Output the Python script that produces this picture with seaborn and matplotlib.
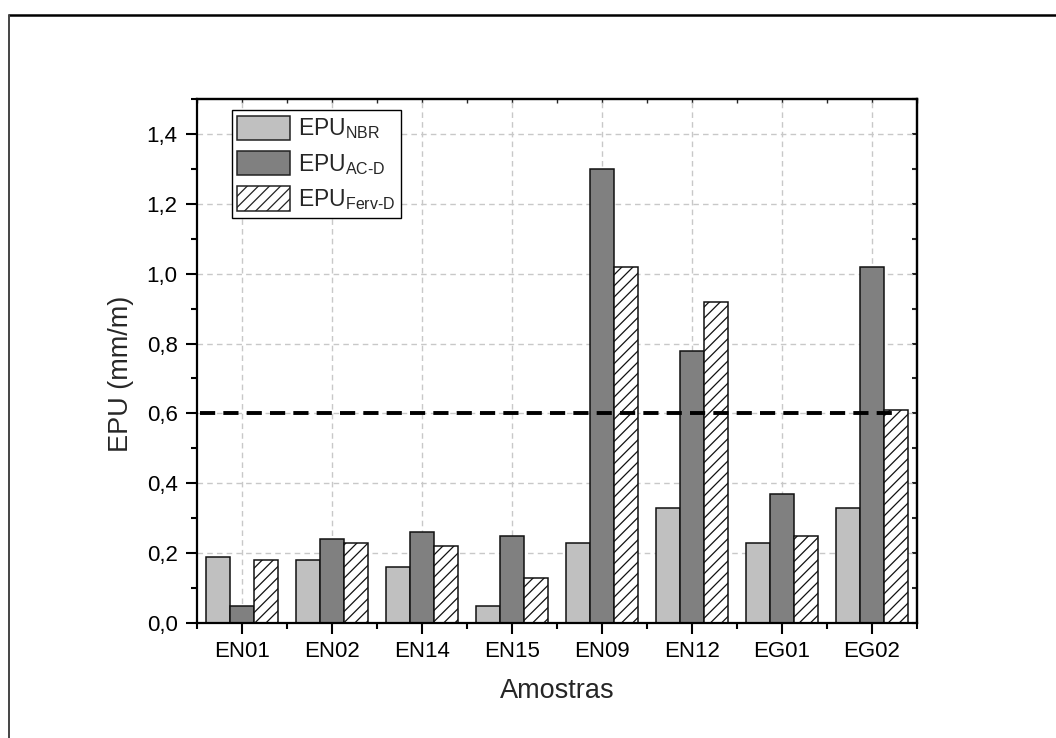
import matplotlib
matplotlib.use("Agg")
import matplotlib.pyplot as plt
import matplotlib.ticker as mticker
from matplotlib.lines import Line2D
from matplotlib.patches import Patch
import seaborn as sns
import pandas as pd

# ---- data ----
samples = ["EN01", "EN02", "EN14", "EN15", "EN09", "EN12", "EG01", "EG02"]
epu_nbr = [0.19, 0.18, 0.16, 0.05, 0.23, 0.33, 0.23, 0.33]
epu_acd = [0.05, 0.24, 0.26, 0.25, 1.30, 0.78, 0.37, 1.02]
epu_ferv = [0.18, 0.23, 0.22, 0.13, 1.02, 0.92, 0.25, 0.61]
series_keys = ["NBR", "AC-D", "Ferv-D"]
legend_labels = [r"EPU$_{\mathregular{NBR}}$", r"EPU$_{\mathregular{AC\text{-}D}}$",
                 r"EPU$_{\mathregular{Ferv\text{-}D}}$"]
threshold = 0.6

df = pd.DataFrame({
    "Amostra": samples * 3,
    "EPU": epu_nbr + epu_acd + epu_ferv,
    "Serie": [series_keys[0]] * 8 + [series_keys[1]] * 8 + [series_keys[2]] * 8,
})

sns.set_style("white")
plt.rcParams["font.family"] = ["Liberation Sans", "DejaVu Sans"]
plt.rcParams["mathtext.fontset"] = "custom"
plt.rcParams["mathtext.rm"] = "Liberation Sans"
plt.rcParams["mathtext.it"] = "Liberation Sans:italic"
plt.rcParams["mathtext.bf"] = "Liberation Sans:bold"
plt.rcParams["hatch.linewidth"] = 0.9

colors = ["#c0c0c0", "#808080", "#ffffff"]

fig = plt.figure(figsize=(10.56, 7.38), dpi=100)
ax = fig.add_axes([197 / 1056, 1 - 623 / 738, 720 / 1056, 524 / 738])

sns.barplot(data=df, x="Amostra", y="EPU", hue="Serie", palette=colors,
            order=samples, hue_order=series_keys, width=0.8, gap=0,
            edgecolor="#111111", linewidth=1.1, saturation=1, ax=ax,
            legend=False, zorder=2)

for p in ax.containers[2]:
    p.set_hatch("///")
    p.set_facecolor("white")

ax.set_xlim(-0.5, 7.5)
ax.set_ylim(0, 1.5)

# threshold line
ax.axhline(threshold, xmin=0.004, xmax=0.974, color="black", lw=2.8,
           linestyle=(0, (3.9, 2.1)), zorder=5)

# grid
ax.set_axisbelow(True)
ax.yaxis.set_major_locator(mticker.MultipleLocator(0.2))
ax.yaxis.set_minor_locator(mticker.MultipleLocator(0.1))
ax.xaxis.set_minor_locator(mticker.FixedLocator([i + 0.5 for i in range(-1, 8)]))
ax.grid(True, which="major", color="#c8c8c8", linestyle=(0, (4, 3)), lw=1.0, zorder=0)
ax.yaxis.set_major_formatter(mticker.FuncFormatter(lambda v, _: f"{v:.1f}".replace(".", ",")))

for s in ax.spines.values():
    s.set_visible(True)
    s.set_linewidth(1.6)
    s.set_color("black")

ax.tick_params(axis="both", which="major", direction="out", length=8, width=1.5,
               labelsize=16, color="black", labelcolor="black")
ax.tick_params(axis="both", which="minor", direction="out", length=4.5, width=1.5,
               color="black")
ax.tick_params(axis="y", which="major", pad=6)
ax.tick_params(axis="x", which="major", pad=5)
ax.tick_params(bottom=True, left=True, top=False, right=False, which="both")

# right and top ticks pointing inward
sec_y = ax.secondary_yaxis("right")
sec_y.yaxis.set_major_locator(mticker.MultipleLocator(0.1))
sec_y.tick_params(direction="in", length=3.5, width=1.5, labelright=False)
sec_y.spines["right"].set_linewidth(1.6)
sec_x = ax.secondary_xaxis("top")
sec_x.xaxis.set_major_locator(mticker.MultipleLocator(0.5))
sec_x.tick_params(direction="in", length=3, width=1.0, labeltop=False)
sec_x.spines["top"].set_linewidth(1.6)

ax.set_xlabel("Amostras", fontsize=19.5)
ax.set_ylabel("EPU (mm/m)", fontsize=19.5)
ax.xaxis.set_label_coords(0.5, -0.105)
ax.yaxis.set_label_coords(-0.088, 0.475)

handles = [Patch(facecolor=colors[0], edgecolor="#222222", lw=1.1),
           Patch(facecolor=colors[1], edgecolor="#222222", lw=1.1),
           Patch(facecolor="white", edgecolor="#222222", lw=1.1, hatch="///")]
leg = ax.legend(handles, legend_labels, loc="upper left", bbox_to_anchor=(0.048, 0.979),
                borderaxespad=0, fontsize=16.5, frameon=True, fancybox=False,
                edgecolor="black", framealpha=1, handlelength=2.3, handleheight=1.25,
                handletextpad=0.35, labelspacing=0.42, borderpad=0.25)
leg.get_frame().set_linewidth(1.0)

# outer frame lines
fig.add_artist(Line2D([8.5 / 1056, 1], [1 - 14.5 / 738, 1 - 14.5 / 738],
                      transform=fig.transFigure, color="black", lw=1.8))
fig.add_artist(Line2D([8.5 / 1056, 8.5 / 1056], [0, 1 - 14.5 / 738],
                      transform=fig.transFigure, color="#444444", lw=1.4))

fig.savefig("out.png", dpi=100)
